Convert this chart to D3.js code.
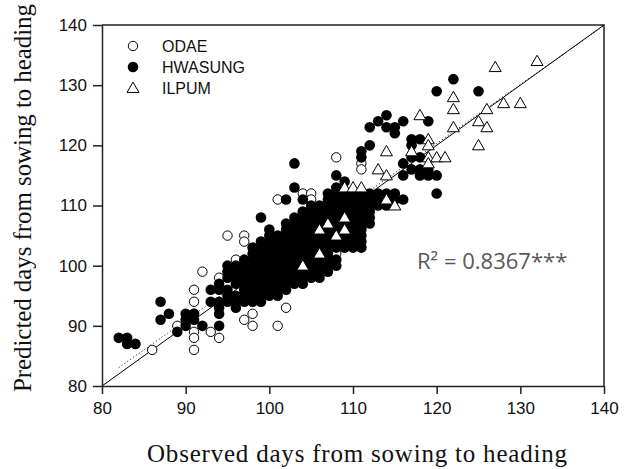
<!DOCTYPE html>
<html>
<head>
<meta charset="utf-8">
<script src="https://cdn.jsdelivr.net/npm/d3@7"></script>
<style>
  body { margin: 0; background: #fff; }
  .tick text { font-family: "Liberation Sans", Arial, sans-serif; font-size: 17px; fill: #111; }
  .axis path, .axis line { stroke: #222; stroke-width: 1.5px; }
</style>
</head>
<body>
<div id="scatter"></div>
<script>
// observed vs predicted days from sowing to heading, [observed, predicted]
var odae = [
  [86, 86], [89, 90], [91, 96], [91, 94], [91, 92], [91, 90], [91, 89], [91, 88], [91, 86],
  [92, 99], [94, 98], [93, 89], [94, 88], [95, 105], [97, 105], [97, 104], [96, 101],
  [97, 91], [98, 92], [98, 90], [101, 90], [102, 93], [100, 101], [100, 97],
  [101, 111], [104, 112], [105, 112], [105, 111], [108, 118], [108, 102], [111, 117],
  [111, 116], [105, 104], [103, 106], [107, 108], [99, 100], [102, 103]
];

var hwasung = [
  [82, 88], [83, 88], [83, 87], [84, 87], [87, 94], [87, 91], [88, 92], [89, 89],
  [90, 91], [90, 92], [91, 92], [91, 91], [90, 90], [92, 90], [93, 96], [93, 94],
  [94, 96], [94, 94], [95, 95], [95, 94], [94, 92], [94, 90], [96, 95], [96, 94],
  [94, 93], [94, 97],
  [95, 96], [95, 98], [95, 99], [95, 100],
  [96, 93], [96, 97], [96, 98], [96, 99], [96, 100],
  [97, 94], [97, 95], [97, 96], [97, 97], [97, 98], [97, 99], [97, 100], [97, 101],
  [98, 94], [98, 95], [98, 96], [98, 97], [98, 98], [98, 99], [98, 100], [98, 101], [98, 102], [98, 103],
  [99, 94], [99, 95], [99, 96], [99, 97], [99, 98], [99, 99], [99, 100], [99, 101], [99, 102], [99, 103],
  [99, 104], [99, 108],
  [100, 95], [100, 96], [100, 97], [100, 98], [100, 99], [100, 100], [100, 101], [100, 102], [100, 103],
  [100, 104], [100, 105], [100, 106],
  [101, 95], [101, 96], [101, 97], [101, 98], [101, 99], [101, 100], [101, 101], [101, 102], [101, 103],
  [101, 104], [101, 105],
  [102, 96], [102, 97], [102, 98], [102, 99], [102, 100], [102, 101], [102, 102], [102, 103], [102, 104],
  [102, 105], [102, 106], [102, 107], [102, 111],
  [103, 97], [103, 98], [103, 99], [103, 100], [103, 101], [103, 102], [103, 103], [103, 104], [103, 105],
  [103, 106], [103, 107], [103, 108], [103, 113], [103, 117],
  [104, 97], [104, 98], [104, 99], [104, 100], [104, 101], [104, 102], [104, 103], [104, 104], [104, 105],
  [104, 106], [104, 107], [104, 108], [104, 109], [104, 111],
  [105, 98], [105, 99], [105, 100], [105, 101], [105, 102], [105, 103], [105, 104], [105, 105], [105, 106],
  [105, 107], [105, 108], [105, 109], [105, 110],
  [106, 98], [106, 99], [106, 100], [106, 101], [106, 102], [106, 103], [106, 104], [106, 105], [106, 106],
  [106, 107], [106, 108], [106, 109], [106, 110],
  [107, 99], [107, 100], [107, 101], [107, 102], [107, 103], [107, 104], [107, 105], [107, 106], [107, 107],
  [107, 108], [107, 109], [107, 110], [107, 111], [107, 112],
  [108, 100], [108, 101], [108, 103], [108, 104], [108, 105], [108, 106], [108, 107], [108, 108], [108, 109],
  [108, 110], [108, 111], [108, 112], [108, 113], [108, 115],
  [109, 103], [109, 104], [109, 105], [109, 106], [109, 107], [109, 108], [109, 109], [109, 110], [109, 111],
  [109, 112], [109, 114],
  [110, 103], [110, 104], [110, 105], [110, 106], [110, 107], [110, 108], [110, 109], [110, 110], [110, 111],
  [110, 112],
  [111, 103], [111, 104], [111, 105], [111, 106], [111, 107], [111, 108], [111, 109], [111, 110], [111, 111],
  [111, 112], [111, 118], [111, 119],
  [112, 107], [112, 108], [112, 109], [112, 110], [112, 111], [112, 112], [112, 120], [112, 123],
  [113, 110], [113, 111], [113, 112], [113, 124], [114, 110], [114, 112], [114, 125], [114, 123],
  [115, 111], [115, 112], [115, 122], [115, 123], [116, 111], [116, 124],
  [116, 115], [116, 117], [117, 116], [117, 118], [118, 115], [118, 116], [118, 118], [119, 115], [119, 116], [120, 115],
  [117, 121], [117, 120], [118, 121], [119, 124], [120, 112], [120, 129], [122, 131], [125, 129]
];

var ilpum = [
  [104, 100], [106, 102], [106, 106], [107, 107], [108, 105], [109, 106], [109, 108],
  [109, 113], [110, 113], [111, 113], [113, 116], [114, 115], [114, 119], [114, 111],
  [115, 110], [118, 125], [119, 121], [119, 120], [117, 119], [119, 118], [119, 117],
  [120, 118], [121, 118], [122, 128], [122, 126], [122, 123], [125, 124], [126, 123],
  [125, 120], [126, 126], [128, 127], [130, 127], [127, 133], [132, 134]
];

var cultivars = ["ODAE", "HWASUNG", "ILPUM"];
var xTicks = [80, 90, 100, 110, 120, 130, 140];
var yTicks = [80, 90, 100, 110, 120, 130, 140];
// regression line [slope, intercept] and its start on the x axis
var fitCoef = [0.98, 2.7];
var fitRange = [82, 140];
var r2Label = "R\u00b2 =  0.8367***";

var svgWidth = 634;
var svgHeight = 469;

var margin = {
  top: 25,
  right: 30,
  bottom: 83,
  left: 102
};

var width = svgWidth - margin.left - margin.right;
var height = svgHeight - margin.top - margin.bottom;

var svg = d3
  .select("#scatter")
  .append("svg")
  .attr("width", svgWidth)
  .attr("height", svgHeight);

var chartGroup = svg.append("g")
  .attr("transform", `translate(${margin.left}, ${margin.top})`);

var xScale = d3.scaleLinear().domain([80, 140]).range([0, width]);
var yScale = d3.scaleLinear().domain([80, 140]).range([height, 0]);

// frame on top and right
chartGroup.append("path")
  .attr("d", `M0,0H${width}V${height}`)
  .attr("fill", "none")
  .attr("stroke", "#222")
  .attr("stroke-width", 1.5);

var bottomAxis = d3.axisBottom(xScale).tickValues(xTicks).tickSizeInner(8).tickSizeOuter(0).tickPadding(8);
var leftAxis = d3.axisLeft(yScale).tickValues(yTicks).tickSizeInner(9).tickSizeOuter(0).tickPadding(6);

chartGroup.append("g")
  .attr("class", "axis")
  .attr("transform", `translate(0, ${height})`)
  .call(bottomAxis);

chartGroup.append("g")
  .attr("class", "axis")
  .call(leftAxis);

// 1:1 line and the dotted regression line
chartGroup.append("line")
  .attr("x1", xScale(80)).attr("y1", yScale(80))
  .attr("x2", xScale(140)).attr("y2", yScale(140))
  .attr("stroke", "#000")
  .attr("stroke-width", 1);

chartGroup.append("line")
  .attr("x1", xScale(fitRange[0])).attr("y1", yScale(fitCoef[0] * fitRange[0] + fitCoef[1]))
  .attr("x2", xScale(fitRange[1])).attr("y2", yScale(fitCoef[0] * fitRange[1] + fitCoef[1]))
  .attr("stroke", "#000")
  .attr("stroke-width", 1)
  .attr("stroke-dasharray", "1,2.5");

var tri = d3.symbol().type(d3.symbolTriangle).size(62);

// points
chartGroup.append("g").selectAll("circle")
  .data(odae)
  .enter()
  .append("circle")
  .attr("cx", d => xScale(d[0]))
  .attr("cy", d => yScale(d[1]))
  .attr("r", 4.7)
  .attr("fill", "#fff")
  .attr("stroke", "#000")
  .attr("stroke-width", 1);

chartGroup.append("g").selectAll("circle")
  .data(hwasung)
  .enter()
  .append("circle")
  .attr("cx", d => xScale(d[0]))
  .attr("cy", d => yScale(d[1]))
  .attr("r", 5.3)
  .attr("fill", "#000");

chartGroup.append("g").selectAll("path")
  .data(ilpum)
  .enter()
  .append("path")
  .attr("d", tri)
  .attr("transform", d => `translate(${xScale(d[0])}, ${yScale(d[1]) + 1})`)
  .attr("fill", "#fff")
  .attr("stroke", "#000")
  .attr("stroke-width", 1);

// legend
var legend = svg.append("g").attr("transform", "translate(133, 46)");
cultivars.forEach(function (name, i) {
  var row = legend.append("g").attr("transform", `translate(0, ${i * 21})`);
  if (i === 0) {
    row.append("circle").attr("r", 4.7).attr("fill", "#fff").attr("stroke", "#000");
  } else if (i === 1) {
    row.append("circle").attr("r", 5.3).attr("fill", "#000");
  } else {
    row.append("path").attr("d", tri).attr("transform", "translate(0, 1)")
      .attr("fill", "#fff").attr("stroke", "#000");
  }
  row.append("text")
    .attr("x", 29)
    .attr("y", 6)
    .style("font-family", "'Liberation Sans', Arial, sans-serif")
    .style("font-size", "16px")
    .attr("fill", "#111")
    .text(name);
});

// R squared
svg.append("text")
  .attr("x", 417)
  .attr("y", 269)
  .style("font-family", "'Open Sans', sans-serif")
  .style("font-size", "22px")
  .attr("fill", "#595959")
  .text(r2Label);

// axis titles
svg.append("text")
  .attr("x", 357)
  .attr("y", 462)
  .attr("text-anchor", "middle")
  .attr("textLength", 420)
  .style("font-family", "'Liberation Serif', 'Times New Roman', serif")
  .style("font-size", "25px")
  .attr("fill", "#111")
  .text("Observed days from sowing to heading");

svg.append("text")
  .attr("transform", "rotate(-90)")
  .attr("x", -198)
  .attr("y", 31)
  .attr("text-anchor", "middle")
  .attr("textLength", 388)
  .style("font-family", "'Liberation Serif', 'Times New Roman', serif")
  .style("font-size", "25px")
  .attr("fill", "#111")
  .text("Predicted days from sowing to heading");
</script>
</body>
</html>
